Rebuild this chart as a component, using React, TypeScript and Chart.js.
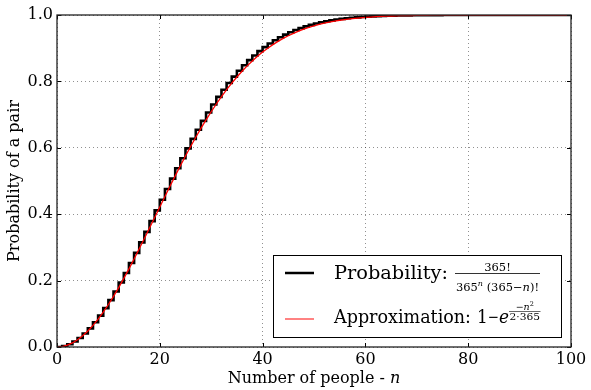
import React, { useEffect, useRef } from "react";
import { Chart, registerables } from "chart.js";

Chart.register(...registerables);

// Number of people n = 0..100
const N_PEOPLE: number[] = Array.from({ length: 101 }, (_, i) => i);

// Exact probability of a shared birthday
const PROBABILITY: number[] = [
  0, 0, 0.00274, 0.0082, 0.01636, 0.02714, 0.04046, 0.05624, 0.07434, 0.09462,
  0.11695, 0.14114, 0.16702, 0.19441, 0.2231, 0.2529, 0.2836, 0.31501, 0.34691, 0.37912,
  0.41144, 0.44369, 0.4757, 0.5073, 0.53834, 0.5687, 0.59824, 0.62686, 0.65446, 0.68097,
  0.70632, 0.73045, 0.75335, 0.77497, 0.79532, 0.81438, 0.83218, 0.84873, 0.86407, 0.87822,
  0.89123, 0.90315, 0.91403, 0.92392, 0.93289, 0.94098, 0.94825, 0.95477, 0.9606, 0.96578,
  0.97037, 0.97443, 0.978, 0.98114, 0.98388, 0.98626, 0.98833, 0.99012, 0.99166, 0.99299,
  0.99412, 0.99508, 0.99591, 0.9966, 0.9972, 0.99768, 0.9981, 0.99844, 0.99873, 0.99896,
  0.99916, 0.99932, 0.99945, 0.99956, 0.99965, 0.99972, 0.99978, 0.99982, 0.99986, 0.99989,
  0.99991, 0.99993, 0.99995, 0.99996, 0.99997, 0.99998, 0.99998, 0.99999, 0.99999, 0.99999,
  0.99999, 1, 1, 1, 1, 1, 1, 1, 1, 1,
  1,
];

// Approximation curve (red)
const APPROXIMATION: number[] = [
  0, 0.00137, 0.00546, 0.01225, 0.02168, 0.03367, 0.04812, 0.06492, 0.08394, 0.10502,
  0.12802, 0.15274, 0.17902, 0.20666, 0.23546, 0.26525, 0.29582, 0.32696, 0.35848, 0.39016,
  0.42185, 0.45346, 0.48472, 0.5155, 0.54572, 0.57522, 0.60388, 0.63162, 0.65836, 0.68398,
  0.70856, 0.73193, 0.7541, 0.77503, 0.79479, 0.81327, 0.83056, 0.84669, 0.86166, 0.87549,
  0.88831, 0.90003, 0.91077, 0.92058, 0.9295, 0.9376, 0.94491, 0.95149, 0.95741, 0.96271,
  0.96744, 0.97164, 0.97538, 0.97868, 0.98158, 0.98414, 0.98637, 0.98833, 0.99003, 0.9915,
  0.99278, 0.99388, 0.99483, 0.99564, 0.99634, 0.99693, 0.99744, 0.99786, 0.99822, 0.99853,
  0.99878, 0.999, 0.99918, 0.99933, 0.99945, 0.99955, 0.99963, 0.9997, 0.99976, 0.99981,
  0.99984, 0.99988, 0.9999, 0.99992, 0.99994, 0.99995, 0.99996, 0.99997, 0.99998, 0.99998,
  0.99999, 0.99999, 0.99999, 0.99999, 1, 1, 1, 1, 1, 1,
  1,
];

const X_TICKS: number[] = [0, 20, 40, 60, 80, 100];
const Y_TICKS: number[] = [0, 0.2, 0.4, 0.6, 0.8, 1.0];

const X_TITLE = "Number of people - ";
const Y_TITLE = "Probability of a pair";
const LEGEND_PROB = "Probability:";
const LEGEND_APPROX = "Approximation:";

const SERIF = "'DejaVu Serif', serif";

type Run = { t: string; italic?: boolean; size: number; dy?: number };

function setFont(ctx: CanvasRenderingContext2D, r: Run) {
  ctx.font = `${r.italic ? "italic " : ""}${r.size}px ${SERIF}`;
}

function runsWidth(ctx: CanvasRenderingContext2D, runs: Run[]) {
  let w = 0;
  for (const r of runs) {
    setFont(ctx, r);
    w += ctx.measureText(r.t).width;
  }
  return w;
}

// Draw runs starting at x, horizontally fitted to a target width if given
function drawRuns(ctx: CanvasRenderingContext2D, runs: Run[], x: number, y: number, fitW?: number) {
  const w = runsWidth(ctx, runs);
  const sx = fitW ? fitW / w : 1;
  ctx.save();
  ctx.translate(x, y);
  ctx.scale(sx, 1);
  let cx = 0;
  for (const r of runs) {
    setFont(ctx, r);
    ctx.fillText(r.t, cx, r.dy || 0);
    cx += ctx.measureText(r.t).width;
  }
  ctx.restore();
  return x + w * sx;
}

const framePlugin = {
  id: "frame",
  afterDraw(chart: any) {
    const ctx: CanvasRenderingContext2D = chart.ctx;
    const { left, right, top, bottom } = chart.chartArea;
    const xs = chart.scales.x;
    const ys = chart.scales.y;
    ctx.save();
    ctx.strokeStyle = "#000";
    ctx.lineWidth = 1;
    const TL = 4;
    ctx.beginPath();
    for (const v of X_TICKS) {
      const px = Math.round(xs.getPixelForValue(v)) + 0.5;
      ctx.moveTo(px, bottom);
      ctx.lineTo(px, bottom - TL);
      ctx.moveTo(px, top);
      ctx.lineTo(px, top + TL);
    }
    for (const v of Y_TICKS) {
      const py = Math.round(ys.getPixelForValue(v)) + 0.5;
      ctx.moveTo(left, py);
      ctx.lineTo(left + TL, py);
      ctx.moveTo(right, py);
      ctx.lineTo(right - TL, py);
    }
    ctx.stroke();
    ctx.lineWidth = 1.3;
    ctx.strokeStyle = "#222";
    ctx.strokeRect(left, top, right - left, bottom - top);

    // Axis titles
    ctx.fillStyle = "#000";
    ctx.textBaseline = "alphabetic";
    ctx.textAlign = "left";
    const xr: Run[] = [
      { t: X_TITLE, size: 16 },
      { t: "n", italic: true, size: 16 },
    ];
    const xw = runsWidth(ctx, xr);
    drawRuns(ctx, xr, (left + right) / 2 - xw / 2, 383);

    ctx.save();
    ctx.translate(15, (top + bottom) / 2);
    ctx.rotate(-Math.PI / 2);
    ctx.font = `16px ${SERIF}`;
    ctx.textAlign = "center";
    ctx.textBaseline = "middle";
    ctx.fillText(Y_TITLE, 0, 0);
    ctx.restore();

    // Legend
    const lx = 273.5, ly = 255.5, lw = 288, lh = 82;
    ctx.fillStyle = "#fff";
    ctx.fillRect(lx, ly, lw, lh);
    ctx.strokeStyle = "#000";
    ctx.lineWidth = 1;
    ctx.strokeRect(lx, ly, lw, lh);

    ctx.beginPath();
    ctx.strokeStyle = "#000";
    ctx.lineWidth = 2.5;
    ctx.moveTo(285, 273);
    ctx.lineTo(314, 273);
    ctx.stroke();
    ctx.beginPath();
    ctx.strokeStyle = "#ff3030";
    ctx.lineWidth = 1.2;
    ctx.moveTo(285, 319);
    ctx.lineTo(314, 319);
    ctx.stroke();

    ctx.fillStyle = "#000";
    ctx.textAlign = "left";
    ctx.textBaseline = "alphabetic";
    const big = 19;
    const sm = 11.5;
    // Row 1
    drawRuns(ctx, [{ t: LEGEND_PROB, size: big }], 334, 279, 114);
    const den: Run[] = [
      { t: "365", size: sm },
      { t: "n", italic: true, size: 8, dy: -5 },
      { t: " (365\u2212", size: sm },
      { t: "n", italic: true, size: sm },
      { t: ")!", size: sm },
    ];
    const num: Run[] = [{ t: "365!", size: sm }];
    const fx = 455, fw = 85;
    ctx.fillRect(fx, 273.2, fw, 0.8);
    const nw = runsWidth(ctx, num);
    drawRuns(ctx, num, fx + fw / 2 - nw / 2, 271);
    drawRuns(ctx, den, fx + 1, 290.5, fw - 2);

    // Row 2
    drawRuns(ctx, [{ t: LEGEND_APPROX, size: big }], 334, 323, 137);
    drawRuns(
      ctx,
      [
        { t: "1", size: big },
        { t: "\u2212", size: 15, dy: -1 },
        { t: "e", italic: true, size: big },
      ],
      477,
      323,
      32
    );
    const en: Run[] = [
      { t: "\u2212", size: 9.5 },
      { t: "n", italic: true, size: 9.5 },
      { t: "2", size: 6.5, dy: -3.5 },
    ];
    const ed: Run[] = [{ t: "2\u00b7365", size: 10 }];
    const ex = 509, ebw = 31.5;
    ctx.fillRect(ex, 311.3, ebw, 0.6);
    const enw = runsWidth(ctx, en);
    drawRuns(ctx, en, ex + ebw / 2 - enw / 2, 309.5);
    drawRuns(ctx, ed, ex + 0.5, 320, ebw - 1);

    ctx.restore();
  },
};

export default function App() {
  const ref = useRef<HTMLCanvasElement | null>(null);
  useEffect(() => {
    if (!ref.current) return;
    const chart = new Chart(ref.current, {
      type: "line",
      data: {
        datasets: [
          {
            label: "Probability",
            data: N_PEOPLE.map((n, i) => ({ x: n, y: PROBABILITY[i] })),
            borderColor: "#000",
            borderWidth: 2.6,
            stepped: "after",
            pointRadius: 0,
            fill: false,
            order: 2,
          },
          {
            label: "Approximation",
            data: N_PEOPLE.map((n, i) => ({ x: n, y: APPROXIMATION[i] })),
            borderColor: "#ff0000",
            borderWidth: 1.3,
            pointRadius: 0,
            tension: 0,
            fill: false,
            order: 1,
          },
        ],
      },
      options: {
        animation: false,
        responsive: false,
        maintainAspectRatio: false,
        layout: { padding: { left: 0, right: 20, top: 15, bottom: 0 } },
        plugins: { legend: { display: false }, tooltip: { enabled: false } },
        scales: {
          x: {
            type: "linear",
            min: 0,
            max: 100,
            afterFit: (s: any) => {
              s.height = 43;
            },
            afterBuildTicks: (s: any) => {
              s.ticks = X_TICKS.map((v) => ({ value: v }));
            },
            ticks: {
              color: "#000",
              font: { family: SERIF, size: 16 },
              padding: 3,
              maxRotation: 0,
              callback: (v: any) => String(v),
            },
            grid: { color: "rgba(0,0,0,0.55)", lineWidth: 0.8, drawTicks: false },
            border: { display: false, dash: [1, 3] },
          },
          y: {
            type: "linear",
            min: 0,
            max: 1,
            afterFit: (s: any) => {
              s.width = 57;
            },
            afterBuildTicks: (s: any) => {
              s.ticks = Y_TICKS.map((v) => ({ value: v }));
            },
            ticks: {
              color: "#000",
              font: { family: SERIF, size: 16 },
              padding: 4,
              callback: (v: any) => Number(v).toFixed(1),
            },
            grid: { color: "rgba(0,0,0,0.55)", lineWidth: 0.8, drawTicks: false },
            border: { display: false, dash: [1, 3] },
          },
        },
      },
      plugins: [framePlugin],
    });
    return () => chart.destroy();
  }, []);
  return (
    <div style={{ position: "fixed", left: 0, top: 0, width: 591, height: 390, background: "#fff" }}>
      <canvas ref={ref} width={591} height={390} style={{ width: 591, height: 390, display: "block" }} />
    </div>
  );
}
